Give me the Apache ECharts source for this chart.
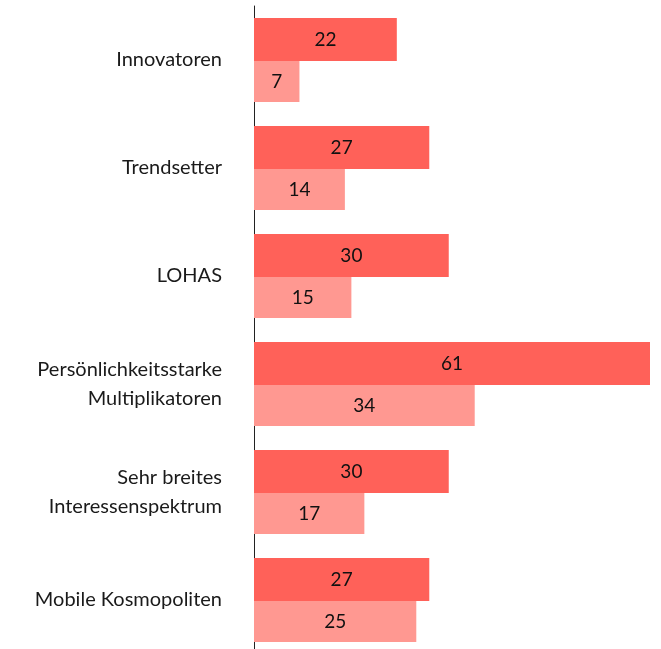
<!DOCTYPE html>
<html>
<head>
<meta charset="utf-8">
<script src="https://cdn.jsdelivr.net/npm/echarts@6/dist/echarts.min.js"></script>
<style>
  html, body { margin: 0; padding: 0; background: #fff; overflow: hidden; }
  #chart { width: 661px; height: 654px; }
</style>
</head>
<body>
<div id="chart"></div>
<script>
const categories = [
  'Innovatoren',
  'Trendsetter',
  'LOHAS',
  'Persönlichkeitsstarke\nMultiplikatoren',
  'Sehr breites\nInteressenspektrum',
  'Mobile Kosmopoliten'
]
const darkValues = [22, 27, 30, 61, 30, 27]
const lightValues = [7, 14, 15, 34, 17, 25]

const chart = echarts.init(document.getElementById('chart'))

const labelStyle = {
  show: true,
  position: 'inside',
  color: '#111',
  fontSize: 19,
  fontFamily: 'Lato'
}

chart.setOption({
  backgroundColor: '#fff',
  animation: false,
  grid: { left: 254, right: 11, top: 6, bottom: 0 },
  xAxis: {
    type: 'value',
    min: 0,
    max: 61,
    show: false
  },
  yAxis: {
    type: 'category',
    inverse: true,
    data: categories,
    axisLine: { lineStyle: { color: '#222', width: 1 } },
    axisTick: { show: false },
    axisLabel: {
      color: '#1a1a1a',
      fontSize: 20,
      fontFamily: 'Lato',
      margin: 32,
      lineHeight: 29,
      align: 'right',
      padding: [0, 0, 6, 0]
    }
  },
  series: [
    {
      name: 'a',
      type: 'bar',
      barWidth: 43,
      barGap: '0%',
      itemStyle: { color: '#ff6159' },
      label: labelStyle,
      data: darkValues
    },
    {
      name: 'b',
      type: 'bar',
      barWidth: 41,
      barGap: '0%',
      itemStyle: { color: '#ff9891' },
      label: labelStyle,
      data: lightValues
    }
  ]
})
</script>
</body>
</html>
